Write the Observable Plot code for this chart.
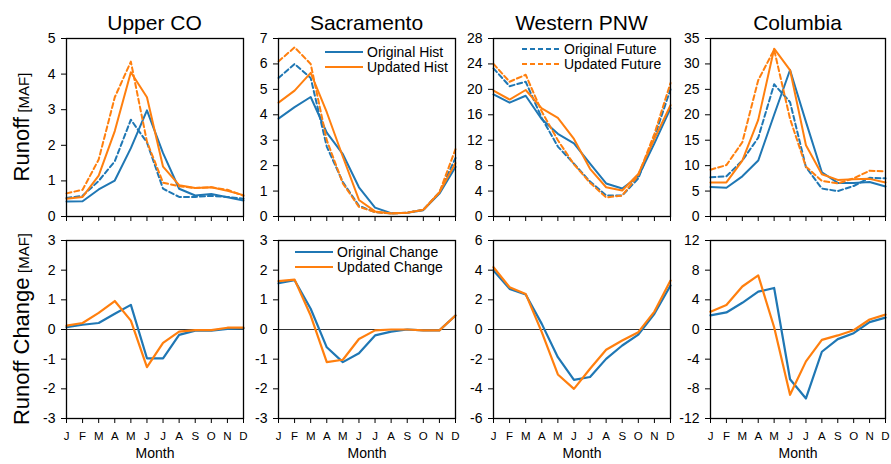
<!DOCTYPE html>
<html><head><meta charset="utf-8">
<script src="https://cdn.jsdelivr.net/npm/d3@7"></script>
<script src="https://cdn.jsdelivr.net/npm/@observablehq/plot@0.6"></script>
<style>
body{margin:0;background:#fff;font-family:"Liberation Sans",Arial,Helvetica,sans-serif;}
#wrap{position:relative;width:891px;height:464px;overflow:hidden;}
.abs{position:absolute;}
.title{font-size:21px;color:#000;transform:translateX(-50%);white-space:nowrap;line-height:1;}
.ylab{white-space:nowrap;transform:translate(-50%,-50%) rotate(-90deg);color:#000;line-height:1;}
.ylab .big{font-size:22px;}
.ylab .small{font-size:15px;}
.leg{font-size:14px;white-space:nowrap;display:flex;align-items:center;line-height:1;}
.leg svg{margin-right:4px;}
</style>
</head><body><div id="wrap"></div>
<script>
const months = ["J","F","M","A","M","J","J","A","S","O","N","D"];
const regions = ["Upper CO","Sacramento","Western PNW","Columbia"];

// Upper CO
const ucoOrigHist = [0.42,0.43,0.76,1.01,1.92,2.98,1.78,0.78,0.59,0.63,0.54,0.45];
const ucoOrigFut  = [0.52,0.58,1.0,1.55,2.72,2.08,0.78,0.55,0.55,0.58,0.55,0.5];
const ucoUpdHist  = [0.5,0.55,1.15,2.4,4.05,3.35,1.4,0.88,0.8,0.82,0.72,0.6];
const ucoUpdFut   = [0.65,0.75,1.6,3.35,4.35,2.1,0.95,0.85,0.8,0.82,0.75,0.58];
const ucoOrigChg  = [0.08,0.16,0.22,0.53,0.83,-0.97,-0.97,-0.18,-0.04,-0.04,0.02,0.04];
const ucoUpdChg   = [0.13,0.22,0.56,0.96,0.3,-1.27,-0.45,-0.07,-0.02,-0.02,0.06,0.06];

// Sacramento
const sacOrigHist = [3.85,4.3,4.7,3.3,2.45,1.15,0.35,0.13,0.15,0.25,0.9,1.95];
const sacOrigFut  = [5.45,6.0,5.45,2.75,1.35,0.42,0.17,0.12,0.15,0.27,0.95,2.3];
const sacUpdHist  = [4.48,4.95,5.65,4.1,2.35,0.65,0.2,0.12,0.15,0.27,0.95,2.1];
const sacUpdFut   = [6.1,6.65,6.0,3.0,1.3,0.38,0.17,0.13,0.15,0.25,0.95,2.65];
const sacOrigChg  = [1.56,1.66,0.7,-0.6,-1.1,-0.8,-0.2,-0.07,0,-0.03,-0.03,0.47];
const sacUpdChg   = [1.63,1.68,0.47,-1.1,-1.02,-0.32,-0.03,0,0,-0.03,-0.03,0.47];

// Western PNW
const pnwOrigHist = [19.2,17.9,19.0,15.3,13.0,11.5,8.3,5.2,4.4,6.3,11.5,17.0];
const pnwOrigFut  = [23.3,20.5,21.2,15.5,11.0,8.3,5.5,3.3,3.3,6.0,12.5,20.0];
const pnwUpdHist  = [19.8,18.4,19.9,17.0,15.5,12.2,7.5,4.6,4.1,6.7,12.2,17.5];
const pnwUpdFut   = [24.0,21.2,22.3,16.5,12.0,8.2,5.3,3.0,3.3,6.5,13.0,21.0];
const pnwOrigChg  = [3.98,2.74,2.36,0.38,-1.87,-3.4,-3.2,-1.98,-1.08,-0.34,1.06,2.97];
const pnwUpdChg   = [4.2,2.85,2.4,-0.18,-3.03,-4.0,-2.65,-1.37,-0.74,-0.18,1.21,3.3];

// Columbia
const colOrigHist = [5.8,5.65,7.9,11.0,20.0,28.8,18.6,8.7,6.6,6.6,6.8,5.9];
const colOrigFut  = [7.7,7.9,11.0,15.5,26.0,22.5,9.7,5.5,5.0,6.0,7.6,7.5];
const colUpdHist  = [6.7,6.7,11.0,19.0,33.0,28.8,14.0,8.3,7.2,7.3,7.4,6.7];
const colUpdFut   = [9.2,10.1,14.6,26.8,32.8,19.2,9.8,7.0,6.5,7.5,9.0,8.9];
const colOrigChg  = [1.9,2.3,3.6,5.1,5.6,-6.7,-9.3,-3.0,-1.3,-0.5,1.0,1.6];
const colUpdChg   = [2.4,3.3,5.8,7.3,0.3,-8.8,-4.3,-1.4,-0.8,-0.1,1.35,2.0];

const topTicks = [[0,1,2,3,4,5],[0,1,2,3,4,5,6,7],[0,4,8,12,16,20,24,28],[0,5,10,15,20,25,30,35]];
const botTicks = [[-3,-2,-1,0,1,2,3],[-3,-2,-1,0,1,2,3],[-6,-4,-2,0,2,4,6],[-12,-8,-4,0,4,8,12]];

const BLUE = "#1f77b4", ORANGE = "#ff7f0e";
const topSeries = [
  [ucoOrigHist,ucoOrigFut,ucoUpdHist,ucoUpdFut],
  [sacOrigHist,sacOrigFut,sacUpdHist,sacUpdFut],
  [pnwOrigHist,pnwOrigFut,pnwUpdHist,pnwUpdFut],
  [colOrigHist,colOrigFut,colUpdHist,colUpdFut]
];
const botSeries = [
  [ucoOrigChg,ucoUpdChg],[sacOrigChg,sacUpdChg],[pnwOrigChg,pnwUpdChg],[colOrigChg,colUpdChg]
];

const wrap = document.getElementById("wrap");
const PX = [66,278,493,710], PW = [177,177,177,175];
const TOPY = 38, BOTY = 240, PH = 178;
const ML = 45, MR = 5, MT = 5, MB = 50;

function toRows(arr){ return arr.map((v,i)=>({m:i,v})); }

function makePanel(col, top, series, ticks){
  const marks = [];
  const domain = [ticks[0], ticks[ticks.length-1]];
  marks.push(Plot.axisY({ticks, tickSize:5, tickPadding:6, fontSize:14, tickFormat:d=>String(d), label:null}));
  marks.push(Plot.axisX({ticks:d3.range(12), tickSize:5, tickPadding:8, fontSize:11.5,
    tickFormat: top ? ()=>"" : i=>months[i], label:null}));
  if (!top) {
    marks.push(Plot.ruleY([0], {stroke:"black", strokeWidth:0.8}));
    marks.push(Plot.text(["Month"], {frameAnchor:"bottom", dy:39, fontSize:14, fill:"black"}));
    const styles = [{stroke:BLUE},{stroke:ORANGE}];
    series.forEach((s,k)=>marks.push(Plot.line(toRows(s), {x:"m", y:"v", stroke:styles[k].stroke, strokeWidth:2.2})));
  } else {
    const st = [{stroke:BLUE,dash:null},{stroke:BLUE,dash:"5,3"},{stroke:ORANGE,dash:null},{stroke:ORANGE,dash:"5,3"}];
    series.forEach((s,k)=>marks.push(Plot.line(toRows(s), {x:"m", y:"v", stroke:st[k].stroke, strokeDasharray:st[k].dash, strokeWidth:2})));
  }
  marks.push(Plot.frame({stroke:"black", strokeWidth:1.3}));
  const p = Plot.plot({
    width: PW[col]+ML+MR, height: PH+MT+MB,
    marginLeft: ML, marginRight: MR, marginTop: MT, marginBottom: MB,
    style:{background:"transparent", overflow:"visible", fontFamily:"'Liberation Sans', Arial, sans-serif", color:"black"},
    x:{domain:[0,11], axis:null},
    y:{domain, axis:null},
    marks
  });
  p.style.position = "absolute";
  p.style.left = (PX[col]-ML)+"px";
  p.style.top = ((top?TOPY:BOTY)-MT)+"px";
  p.style.maxWidth = "none";
  wrap.appendChild(p);
}

for (let c=0;c<4;c++){
  makePanel(c, true, topSeries[c], topTicks[c]);
  makePanel(c, false, botSeries[c], botTicks[c]);
  const t = document.createElement("div");
  t.className = "abs title";
  t.textContent = regions[c];
  t.style.left = (PX[c]+PW[c]/2)+"px";
  t.style.top = "12px";
  wrap.appendChild(t);
}

function ylab(html, cy){
  const d = document.createElement("div");
  d.className = "abs ylab";
  d.innerHTML = html;
  d.style.left = "22px"; d.style.top = cy+"px";
  wrap.appendChild(d);
}
ylab('<span class="big">Runoff</span> <span class="small">[MAF]</span>', 127);
ylab('<span class="big">Runoff Change</span> <span class="small">[MAF]</span>', 329);

function legend(x, y, color, dash, label){
  const d = document.createElement("div");
  d.className = "abs leg";
  d.style.left = x+"px"; d.style.top = (y-8)+"px";
  d.innerHTML = `<svg width="38" height="16"><line x1="0" x2="38" y1="8" y2="8" stroke="${color}" stroke-width="2" ${dash?`stroke-dasharray="${dash}"`:""}/></svg><span>${label}</span>`;
  wrap.appendChild(d);
}
legend(325, 52, BLUE, null, "Original Hist");
legend(325, 67, ORANGE, null, "Updated Hist");
legend(522, 49, BLUE, "5,3", "Original Future");
legend(522, 64, ORANGE, "5,3", "Updated Future");
legend(295, 252, BLUE, null, "Original Change");
legend(295, 267, ORANGE, null, "Updated Change");
</script></body></html>
